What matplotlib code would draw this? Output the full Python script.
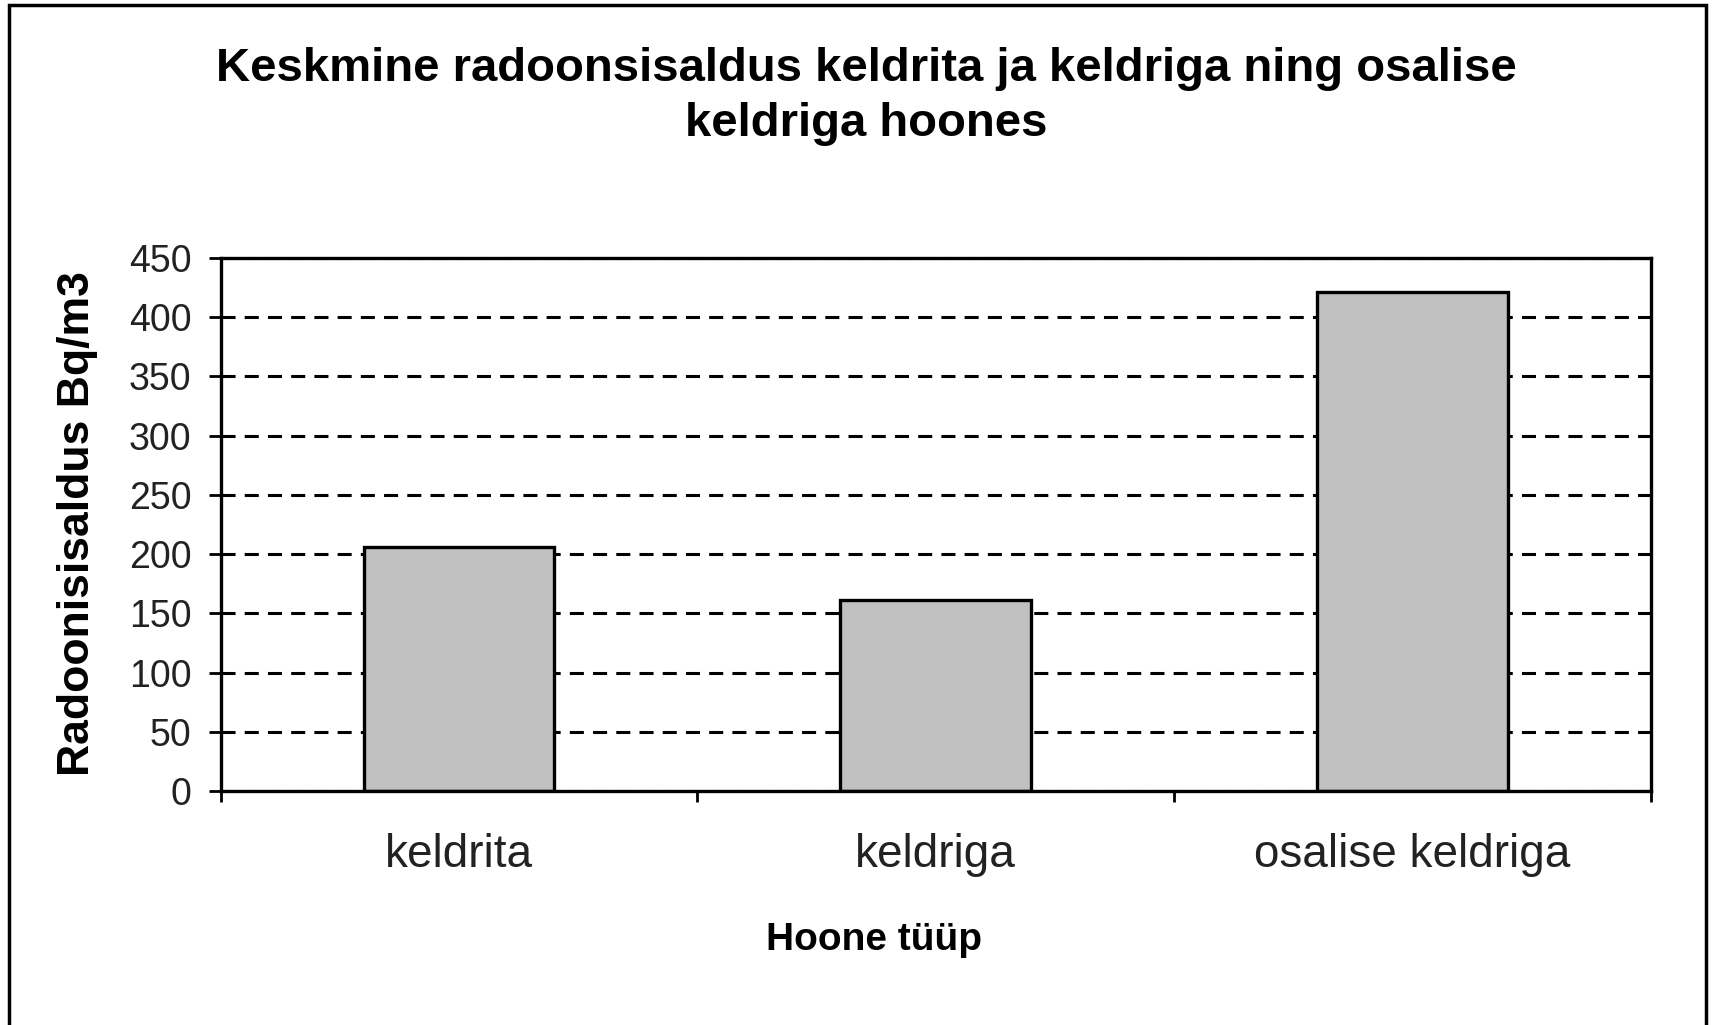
import matplotlib.pyplot as plt
from matplotlib.patches import Rectangle

plt.rcParams['font.family'] = ['Liberation Sans', 'DejaVu Sans']

# data
categories = ['keldrita', 'keldriga', 'osalise keldriga']
values = [206, 161, 421]
yticks = [0, 50, 100, 150, 200, 250, 300, 350, 400, 450]

title = 'Keskmine radoonsisaldus keldrita ja keldriga ning osalise\nkeldriga hoones'
xlabel = 'Hoone tüüp'
ylabel = 'Radoonisisaldus Bq/m3'

fig = plt.figure(figsize=(17.2, 10.25), dpi=100)
ax = fig.add_axes([0.1282, 0.2283, 0.9599 - 0.1282, 0.7485 - 0.2283])

# grid lines behind the bars
ax.set_axisbelow(True)
ax.yaxis.grid(True, color='black', linestyle=(0, (4.6, 3)), linewidth=2.2)

x = range(len(categories))
ax.bar(x, values, width=0.4, color='#c0c0c0', edgecolor='black', linewidth=2.4)

ax.set_xlim(-0.5, len(categories) - 0.5)
ax.set_ylim(0, 450)
ax.set_yticks(yticks)
ax.set_xticks(list(x))
ax.set_xticklabels(categories, fontsize=33)
ax.set_xticks([i - 0.5 for i in range(len(categories) + 1)], minor=True)

ax.tick_params(axis='x', which='major', length=0, pad=30)
ax.tick_params(axis='x', which='minor', length=8, width=2, direction='out')
ax.tick_params(axis='y', length=9, width=2, direction='out', pad=12, labelsize=27,
               labelcolor='#222222')
ax.tick_params(axis='x', labelcolor='#222222')

for s in ax.spines.values():
  s.set_linewidth(2.4)
  s.set_color('black')

# title and axis labels placed in figure coords
fig.text(0.5037, 0.9055, title, ha='center', va='center', fontsize=34,
         fontweight='bold', linespacing=1.32)
fig.text(0.508, 0.0829, xlabel, ha='center', va='center', fontsize=28,
         fontweight='bold')
fig.text(0.0448, 0.4888, ylabel, ha='center', va='center', fontsize=32,
         fontweight='bold', rotation=90)

# outer frame
fig.patches.append(Rectangle((0.0055, -0.02), 0.9865, 1.015, transform=fig.transFigure,
                             fill=False, edgecolor='black', linewidth=2.5))

plt.savefig('out.png')
